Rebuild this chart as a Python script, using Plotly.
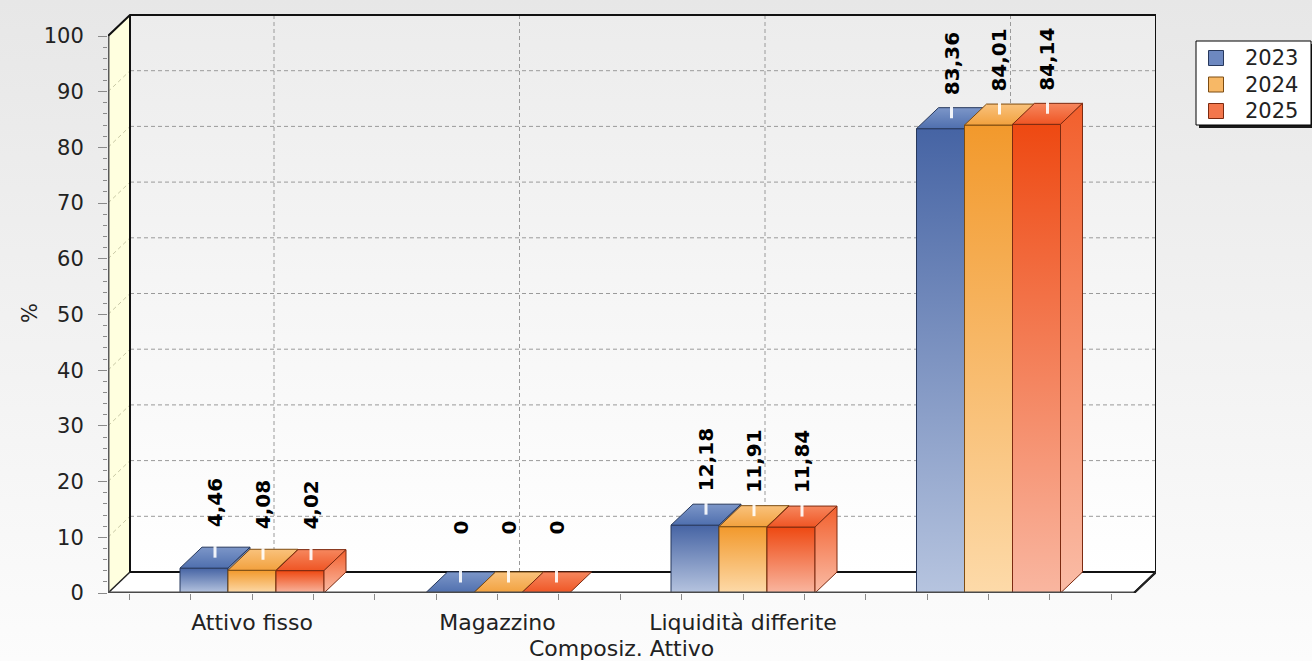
import plotly.graph_objects as go

# ---------------- data ----------------
categories = ["Attivo fisso", "Magazzino", "Liquidità differite", ""]
years = ["2023", "2024", "2025"]
v2023 = [4.46, 0, 12.18, 83.36]
v2024 = [4.08, 0, 11.91, 84.01]
v2025 = [4.02, 0, 11.84, 84.14]
y_ticks = [0, 10, 20, 30, 40, 50, 60, 70, 80, 90, 100]
x_title = "Composiz. Attivo"
y_title = "%"

series = [v2023, v2024, v2025]

# ---------------- style / geometry ----------------
W, H = 1312, 661
FONT = "DejaVu Sans"
front_left_px, front_right_px = 108, 1134
floor_px, top100_px = 593, 36
depth_dx_px, depth_dy_px = 22, 21
cat_step_px, first_center_px = 245.5, 252

px_per_y = (floor_px - top100_px) / 100.0
xl = -(first_center_px - front_left_px) / cat_step_px
xr = xl + (front_right_px - front_left_px) / cat_step_px
dxu = depth_dx_px / cat_step_px
dyu = depth_dy_px / px_per_y
y_max = 104
bw = 48 / cat_step_px  # bar width in category units

x_dom = [front_left_px / W, (front_right_px + depth_dx_px) / W]
y_dom = [(H - floor_px) / H, (H - floor_px + y_max * px_per_y) / H]

front_cs = [
    [[0, "#b6c4df"], [1, "#4664a4"]],
    [[0, "#fddaa9"], [1, "#f2992c"]],
    [[0, "#f9b6a0"], [1, "#ee4912"]],
]
top_cs = [
    [[0, "#4f6fae"], [1, "#7c96c8"]],
    [[0, "#f2a13e"], [1, "#f9c27c"]],
    [[0, "#ef5524"], [1, "#f6875e"]],
]
side_cs = [
    [[0, "#bccae3"], [1, "#5a78b2"]],
    [[0, "#fde0b6"], [1, "#f5a646"]],
    [[0, "#fabca6"], [1, "#f25f2c"]],
]
edge_col = ["#27385c", "#7c4c12", "#7c2a10"]
legend_col = ["#6d88c0", "#f7b866", "#f3774c"]

fig = go.Figure()

# page background gradient (hidden axes x/y span the whole page: paper coords)
fig.add_trace(go.Scatter(
    x=[0, 1, 1, 0, 0], y=[0, 0, 1, 1, 0], mode="lines", fill="toself",
    line=dict(width=0), fillgradient=dict(type="vertical",
    colorscale=[[0, "#fcfcfc"], [1, "#e7e7e7"]]),
    hoverinfo="skip", showlegend=False, xaxis="x", yaxis="y"))

# legend (drawn on the page-wide hidden axes)
lg_l, lg_r, lg_t, lg_b = 1196 / W, 1311 / W, 1 - 41 / H, 1 - 125 / H
sh = 3
fig.add_trace(go.Scatter(
    x=[lg_l + sh / W, 1.0, 1.0, lg_l + sh / W, lg_l + sh / W],
    y=[lg_b - sh / H, lg_b - sh / H, lg_t - sh / H, lg_t - sh / H, lg_b - sh / H],
    mode="lines", fill="toself", fillcolor="#1a1a1a", line=dict(width=0),
    hoverinfo="skip", showlegend=False, xaxis="x", yaxis="y"))
fig.add_trace(go.Scatter(
    x=[lg_l, lg_r, lg_r, lg_l, lg_l], y=[lg_b, lg_b, lg_t, lg_t, lg_b],
    mode="lines", fill="toself", fillcolor="#ffffff", line=dict(width=1, color="#000"),
    hoverinfo="skip", showlegend=False, xaxis="x", yaxis="y"))
leg_y_px = [58, 84.5, 111]
fig.add_trace(go.Scatter(
    x=[1216 / W] * 3, y=[1 - p / H for p in leg_y_px], mode="markers",
    marker=dict(symbol="square", size=15, color=legend_col,
                line=dict(color=edge_col, width=1)),
    hoverinfo="skip", showlegend=False, xaxis="x", yaxis="y"))

AX = dict(xaxis="x2", yaxis="y2", hoverinfo="skip", showlegend=False)


def poly(xs, ys, cs=None, color=None, line_col=None, lw=0):
    kw = dict(x=xs + [xs[0]], y=ys + [ys[0]], mode="lines", fill="toself",
              line=dict(width=lw, color=line_col or "rgba(0,0,0,0)"), **AX)
    if cs is not None:
        kw["fillgradient"] = dict(type="vertical", colorscale=cs)
    else:
        kw["fillcolor"] = color
    fig.add_trace(go.Scatter(**kw))


def line(xs, ys, color, width, dash=None):
    fig.add_trace(go.Scatter(x=xs, y=ys, mode="lines",
                             line=dict(color=color, width=width, dash=dash), **AX))


# back wall, left wall, floor
poly([xl + dxu, xr + dxu, xr + dxu, xl + dxu], [dyu, dyu, 100 + dyu, 100 + dyu],
     cs=[[0, "#ffffff"], [1, "#ececec"]])
poly([xl, xl + dxu, xl + dxu, xl], [0, dyu, 100 + dyu, 100], color="#ffffdf")
poly([xl, xr, xr + dxu, xl + dxu], [0, 0, dyu, dyu], color="#ffffff")

# grid lines
gx, gy, wx, wy = [], [], [], []
for t in y_ticks[1:-1]:
    gx += [xl + dxu, xr + dxu, None]
    gy += [t + dyu, t + dyu, None]
    wx += [xl, xl + dxu, None]
    wy += [t, t + dyu, None]
for i in range(len(categories)):
    gx += [i + dxu, i + dxu, None]
    gy += [dyu, 100 + dyu, None]
line(gx, gy, "#9a9a9a", 1, "4px,3px")
line(wx, wy, "#c9c9a6", 1, "4px,3px")

# box edges
line([xl + dxu, xl + dxu], [dyu, 100 + dyu], "#111", 2)
line([xl, xl + dxu, xr + dxu, xr + dxu, xr], [100, 100 + dyu, 100 + dyu, dyu, 0], "#111", 2)
line([xl + dxu, xr + dxu], [dyu, dyu], "#111", 2)
line([xl, xl + dxu], [0, dyu], "#222", 1.5)

# bars
annotations = []
for i in range(len(categories)):
    for k, vals in enumerate(series):
        v = vals[i]
        x0 = i + (k - 1.5) * bw
        x1 = x0 + bw
        if v > 0:
            poly([x0, x1, x1, x0], [0, 0, v, v], cs=front_cs[k],
                 line_col=edge_col[k], lw=1)
        poly([x0, x1, x1 + dxu, x0 + dxu], [v, v, v + dyu, v + dyu],
             cs=top_cs[k], line_col=edge_col[k], lw=1)
        if v > 0:
            poly([x1, x1 + dxu, x1 + dxu, x1], [0, dyu, v + dyu, v],
                 cs=side_cs[k], line_col=edge_col[k], lw=1)
        xc = x0 + bw / 2 + dxu / 2
        line([xc, xc], [v + dyu * 1.05, v + dyu * 0.5], "rgba(255,255,255,0.9)", 3)
        annotations.append(dict(
            x=xc, y=v, xref="x2", yref="y2", yshift=65,
            text=f"{v:g}".replace(".", ","), showarrow=False, textangle=-90,
            xanchor="center", yanchor="middle",
            font=dict(family=FONT, size=20, color="#000", weight="bold")))

# front axis lines
line([xl, xl], [0, 100], "#5a5a5a", 3)
line([xl, xr], [0, 0], "#4a4a4a", 3)
line([xr, xr + dxu], [0, dyu], "#222", 2)

# legend texts
for k, name in enumerate(years):
    annotations.append(dict(x=1243 / W, y=1 - leg_y_px[k] / H, xref="paper", yref="paper",
                            text=name, showarrow=False, xanchor="left", yanchor="middle",
                            font=dict(family=FONT, size=21, color="#222")))

# titles
annotations.append(dict(x=621 / W, y=(H - 648) / H, xref="paper", yref="paper",
                        text=x_title, showarrow=False, xanchor="center", yanchor="middle",
                        font=dict(family=FONT, size=22, color="#222")))
annotations.append(dict(x=30 / W, y=(H - 313) / H, xref="paper", yref="paper",
                        text=y_title, showarrow=False, textangle=-90,
                        xanchor="center", yanchor="middle",
                        font=dict(family=FONT, size=21, color="#222")))

x_tickvals = [-0.5 + 0.25 * j for j in range(17)]
x_ticktext = []
for t in x_tickvals:
    if abs(t - round(t)) < 1e-9 and 0 <= round(t) < len(categories):
        x_ticktext.append(categories[int(round(t))])
    else:
        x_ticktext.append("")

fig.update_layout(
    width=W, height=H, autosize=False,
    margin=dict(l=0, r=0, t=0, b=0, pad=0),
    paper_bgcolor="#f4f4f4", plot_bgcolor="rgba(0,0,0,0)",
    xaxis=dict(domain=[0, 1], range=[0, 1], visible=False, fixedrange=True),
    yaxis=dict(domain=[0, 1], range=[0, 1], visible=False, fixedrange=True),
    xaxis2=dict(domain=x_dom, range=[xl, xr + dxu], anchor="y2", automargin=False,
                showgrid=False, zeroline=False, showline=False,
                tickmode="array", tickvals=x_tickvals, ticktext=x_ticktext,
                ticks="outside", ticklen=6, tickcolor="#8a8a8a", tickwidth=1,
                ticklabelstandoff=4,
                tickfont=dict(family=FONT, size=22, color="#222"), fixedrange=True),
    yaxis2=dict(domain=y_dom, range=[0, y_max], anchor="x2", automargin=False,
                showgrid=False, zeroline=False, showline=False,
                tickmode="array", tickvals=y_ticks,
                ticks="outside", ticklen=9, tickcolor="#8a8a8a", tickwidth=1,
                ticklabelstandoff=10,
                minor=dict(tickvals=list(range(0, 101, 2)), ticks="outside",
                           ticklen=4, tickcolor="#8a8a8a", tickwidth=1),
                tickfont=dict(family=FONT, size=21, color="#222"), fixedrange=True),
    annotations=annotations,
    showlegend=False,
)

fig.write_html(
    "out.html",
    config={"displayModeBar": False, "staticPlot": True},
    post_script="document.body.style.margin='0';document.body.style.overflow='hidden';",
)
